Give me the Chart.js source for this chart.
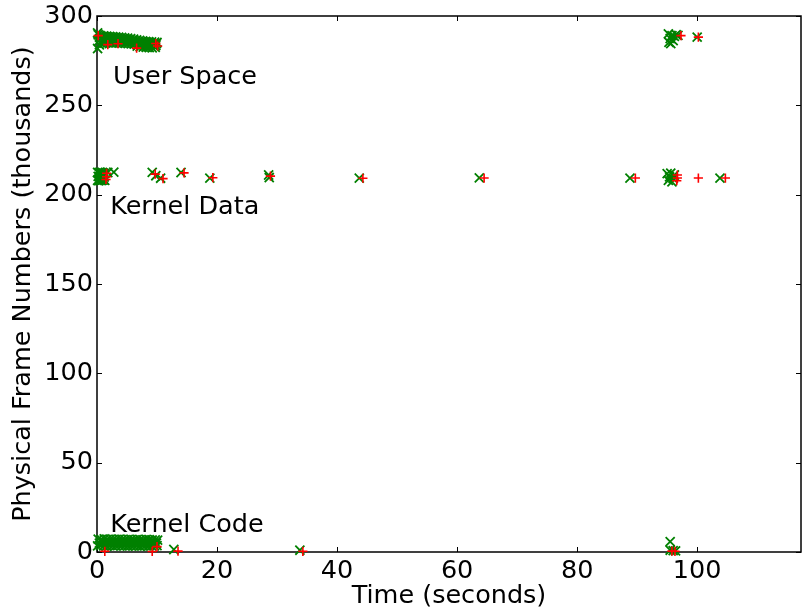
<!DOCTYPE html>
<html>
<head>
<meta charset="utf-8">
<script src="https://cdn.jsdelivr.net/npm/chart.js@4"></script>
<style>
  html, body { margin: 0; padding: 0; background: #fff; }
  #c { display: block; }
</style>
</head>
<body>
<canvas id="c" width="802" height="611"></canvas>
<script>
// Axis ticks
const xTicks = [0, 20, 40, 60, 80, 100];
const yTicks = [0, 50, 100, 150, 200, 250, 300];

// Region labels: [text, time, frame (thousands)]
const regionNames = ['User Space', 'Kernel Data', 'Kernel Code'];
const regionTimes = [2.67, 2.2, 2.2];
const regionFrames = [262, 189, 11.4];

// Green "x" samples — user space
const userGreenT = [0.2,0.6,1.0,1.5,2.0,2.5,3.0,3.5,4.0,4.5,5.0,5.5,6.0,6.5,7.0,7.5,8.0,8.5,9.0,9.5,9.9,
  0.1,0.4,0.8,1.2,1.7,2.2,2.7,3.2,3.7,4.2,4.7,5.2,5.7,6.2,6.7,7.2,7.7,8.2,8.7,9.2,9.7,
  0.3,0.9,1.4,1.9,2.4,2.9,3.4,3.9,4.4,4.9,5.4,5.9,6.4,6.9,7.4,7.9,8.4,8.9,9.4,9.8,
  0.1,0.5,1.1,1.6,2.1,2.6,3.1,3.6,4.1,4.6,5.1,5.6,6.1,6.6,7.1,7.6,8.1,8.6,9.1,9.6,10.0,
  95.2,95.3,95.5,95.6,95.8,96.0,96.2,96.5,96.8,100.0];
const userGreenY = [289.5,288.6,288.2,288.0,287.8,287.6,287.5,287.3,287.1,287.0,286.8,286.6,286.3,286.0,285.4,285.3,285.2,285.0,284.9,284.7,284.5,
  281.8,283.9,284.5,284.8,285.0,285.0,284.9,285.0,284.9,284.8,284.7,284.5,284.4,284.3,283.1,282.8,282.6,282.5,282.3,282.2,282.4,
  286.0,286.5,286.6,286.4,286.3,286.2,286.1,286.0,285.9,285.8,285.6,285.4,285.1,284.2,284.0,283.9,283.7,283.6,283.5,283.4,
  290.5,289.2,288.9,288.7,288.6,288.5,288.3,288.1,288.0,287.8,287.6,287.3,287.0,286.6,286.3,286.0,285.8,285.6,285.5,285.3,285.2,
  290.0,285.2,287.4,284.6,289.0,286.2,288.6,289.5,289.2,288.2];

// Red "+" samples — user space
const userRedT = [0.2, 1.8, 3.5, 6.6, 9.8, 10.1, 97.3, 100.2];
const userRedY = [289.0, 284.0, 284.5, 282.0, 284.6, 283.2, 289.0, 288.2];

// Green "x" samples — kernel data
const kdataGreenT = [0.1,0.3,0.5,0.7,0.9,1.1,1.3, 0.2,0.4,0.6,0.8,1.0,1.2, 0.1,0.3,0.5,0.7,0.9,1.1,1.3,
  1.8,2.8,9.2,9.8,10.6,14.0,18.8,28.6,28.7,43.7,63.7,88.8,95.0,95.2,95.4,95.6,95.8,96.0,96.2,103.8];
const kdataGreenY = [212.5,212.3,212.6,212.2,212.4,212.0,211.8, 210.2,210.0,210.4,209.8,210.1,209.9, 208.0,207.8,208.2,207.9,208.1,208.3,208.0,
  212.4,212.6,212.5,210.6,209.2,212.4,209.3,211.0,209.6,209.3,209.4,209.3,211.8,208.0,210.0,212.0,207.2,209.0,211.0,209.3];

// Red "+" samples — kernel data
const kdataRedT = [1.6,1.6,1.5,9.7,11.0,14.5,19.3,28.9,44.3,64.5,89.7,96.7,96.7,96.6,100.2,104.7];
const kdataRedY = [212.0,210.0,208.5,211.5,209.0,212.2,209.5,210.4,209.2,209.3,209.3,211.0,209.3,207.8,209.3,209.3];

// Green "x" samples — kernel code
const kcodeGreenT = [0.2,0.7,1.2,1.7,2.2,2.7,3.2,3.7,4.2,4.7,5.2,5.7,6.2,6.7,7.2,7.7,8.2,8.7,9.2,9.7,10.1,
  0.4,0.9,1.4,1.9,2.4,2.9,3.4,3.9,4.4,4.9,5.4,5.9,6.4,6.9,7.4,7.9,8.4,8.9,9.4,9.9,
  0.1,0.6,1.1,1.6,2.1,2.6,3.1,3.6,4.1,4.6,5.1,5.6,6.1,6.6,7.1,7.6,8.1,8.6,9.1,9.6,10.0,
  12.8,33.8,95.5,95.5,96.0,96.4];
const kcodeGreenY = [7.2,7.0,7.3,7.1,7.2,7.0,7.1,7.2,7.0,6.9,7.1,7.0,6.8,7.0,6.9,6.8,7.0,6.9,6.7,6.8,6.6,
  5.0,5.3,5.1,5.4,5.2,5.0,5.3,5.1,5.2,5.0,5.1,5.3,5.0,5.2,4.9,5.1,5.0,4.8,5.0,4.9,
  3.4,3.6,3.5,3.3,3.6,3.4,3.5,3.7,3.4,3.5,3.3,3.6,3.4,3.5,3.3,3.4,3.6,3.3,3.5,3.4,3.6,
  1.4,1.0,5.8,1.0,0.8,0.6];

// Red "+" samples — kernel code
const kcodeRedT = [1.3, 9.2, 10.0, 13.5, 34.3, 95.8, 96.3];
const kcodeRedY = [0.4, 0.3, 3.0, 0.5, 0.4, 0.5, 0.4];

const zip = (t, y) => t.map((v, i) => ({ x: v, y: y[i] }));

const FONT = '"DejaVu Sans", sans-serif';
const FS = 25.5;
const PLOT_LEFT = 97, PLOT_BOTTOM_GAP = 59;

// Frame with inward ticks on all four sides, plus the region captions
const framePlugin = {
  id: 'frame',
  beforeDatasetsDraw(chart) {
    const { ctx, chartArea: a, scales } = chart;
    ctx.save();
    ctx.strokeStyle = '#000';
    ctx.lineWidth = 1;
    const L = 5;
    ctx.beginPath();
    xTicks.forEach(v => {
      const px = Math.round(scales.x.getPixelForValue(v)) + 0.5;
      ctx.moveTo(px, a.bottom); ctx.lineTo(px, a.bottom - L);
      ctx.moveTo(px, a.top); ctx.lineTo(px, a.top + L);
    });
    yTicks.forEach(v => {
      const py = Math.round(scales.y.getPixelForValue(v)) + 0.5;
      ctx.moveTo(a.left, py); ctx.lineTo(a.left + L, py);
      ctx.moveTo(a.right, py); ctx.lineTo(a.right - L, py);
    });
    ctx.stroke();
    ctx.lineWidth = 1.5;
    ctx.strokeRect(a.left, a.top, a.right - a.left, a.bottom - a.top);
    ctx.restore();
  },
  afterDatasetsDraw(chart) {
    const { ctx, scales } = chart;
    ctx.save();
    ctx.fillStyle = '#000';
    ctx.font = FS + 'px ' + FONT;
    ctx.textBaseline = 'alphabetic';
    ctx.textAlign = 'left';
    regionNames.forEach((name, i) => {
      ctx.fillText(name, scales.x.getPixelForValue(regionTimes[i]), scales.y.getPixelForValue(regionFrames[i]));
    });
    ctx.restore();
  }
};

const greenStyle = { pointStyle: 'crossRot', pointRadius: 6.4, pointHoverRadius: 6.4, borderColor: '#008000', backgroundColor: '#008000', pointBorderWidth: 1.8, borderWidth: 1.8, order: 1 };
const redStyle = { pointStyle: 'cross', pointRadius: 4.6, pointHoverRadius: 4.6, borderColor: '#ff0000', backgroundColor: '#ff0000', pointBorderWidth: 1.6, borderWidth: 1.6, order: 0 };

const zeroPad = s => { s.paddingTop = 0; s.paddingBottom = 0; s.paddingLeft = 0; s.paddingRight = 0; };

new Chart(document.getElementById('c'), {
  type: 'scatter',
  data: {
    datasets: [
      Object.assign({ label: 'user x', data: zip(userGreenT, userGreenY) }, greenStyle),
      Object.assign({ label: 'kdata x', data: zip(kdataGreenT, kdataGreenY) }, greenStyle),
      Object.assign({ label: 'kcode x', data: zip(kcodeGreenT, kcodeGreenY) }, greenStyle),
      Object.assign({ label: 'user +', data: zip(userRedT, userRedY) }, redStyle),
      Object.assign({ label: 'kdata +', data: zip(kdataRedT, kdataRedY) }, redStyle),
      Object.assign({ label: 'kcode +', data: zip(kcodeRedT, kcodeRedY) }, redStyle)
    ]
  },
  options: {
    responsive: false,
    animation: false,
    devicePixelRatio: 1,
    clip: false,
    layout: { autoPadding: false, padding: { top: 16, right: 1, left: 0, bottom: 0 } },
    plugins: { legend: { display: false }, tooltip: { enabled: false } },
    scales: {
      x: {
        type: 'linear',
        min: 0, max: 117.3,
        grid: { display: false, drawTicks: false },
        border: { display: false },
        ticks: { stepSize: 20, includeBounds: false, padding: 4, color: '#000', font: { family: FONT, size: FS } },
        title: { display: true, text: 'Time (seconds)', color: '#000', font: { family: FONT, size: FS, lineHeight: 1 }, padding: { top: 0, bottom: 2 } },
        afterFit(s) { s.height = PLOT_BOTTOM_GAP; zeroPad(s); }
      },
      y: {
        type: 'linear',
        min: 0, max: 300,
        grid: { display: false, drawTicks: false },
        border: { display: false },
        ticks: { stepSize: 50, includeBounds: false, padding: 4, color: '#000', font: { family: FONT, size: FS } },
        title: { display: true, text: 'Physical Frame Numbers (thousands)', color: '#000', font: { family: FONT, size: FS, lineHeight: 1 }, padding: { top: 11, bottom: 0 } },
        afterFit(s) { s.width = PLOT_LEFT; zeroPad(s); }
      }
    }
  },
  plugins: [framePlugin]
});
</script>
</body>
</html>
